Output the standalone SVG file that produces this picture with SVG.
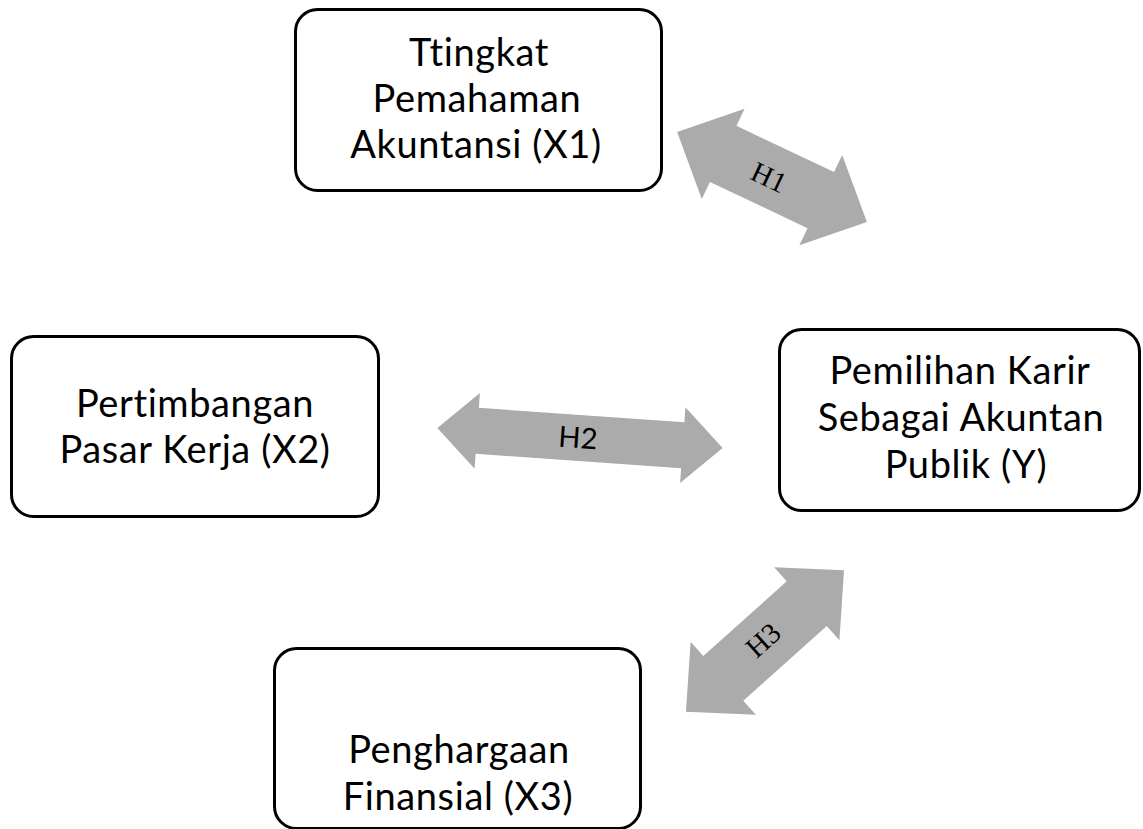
<svg xmlns="http://www.w3.org/2000/svg" width="1143" height="829" viewBox="0 0 1143 829">
  <style>
    .box { fill: #ffffff; stroke: #000000; stroke-width: 3; }
    .lbl { font-family: Lato, "Open Sans", "Liberation Sans", sans-serif; font-size: 38px; letter-spacing: 0.6px; font-variant-ligatures: none; fill: #000000; text-anchor: middle; }
    .arrow { fill: #ababab; stroke: none; }
    .hs { font-family: "Liberation Serif", serif; font-size: 29px; fill: #000000; text-anchor: middle; }
    .hn { font-family: Lato, "Open Sans", "Liberation Sans", sans-serif; font-size: 29px; fill: #000000; text-anchor: middle; }
  </style>
  <rect width="1143" height="829" fill="#ffffff"/>

  <g id="connectors">
    <g id="h1">
      <path class="arrow" transform="translate(772 177) rotate(25.35)" d="M -105 0 L -54 -50 L -54 -31 L 54 -31 L 54 -50 L 105 0 L 54 50 L 54 31 L -54 31 L -54 50 Z"/>
      <text class="hs" transform="translate(769 177) rotate(25.35)" x="0" y="10">H1</text>
    </g>
    <g id="h2">
      <path class="arrow" transform="translate(580 438) rotate(4)" d="M -143 0 L -103 -38 L -103 -23 L 103 -23 L 103 -38 L 143 0 L 103 38 L 103 23 L -103 23 L -103 38 Z"/>
      <text class="hn" transform="translate(578 438) rotate(4)" x="0" y="10">H2</text>
    </g>
    <g id="h3">
      <path class="arrow" transform="translate(765 641) rotate(-41.8)" d="M -106 0 L -56 -49 L -56 -30 L 56 -30 L 56 -49 L 106 0 L 56 49 L 56 30 L -56 30 L -56 49 Z"/>
      <text class="hs" transform="translate(763 640) rotate(-41.8)" x="0" y="10">H3</text>
    </g>
  </g>

  <g id="x1">
    <rect class="box" x="295.5" y="9.5" width="366" height="181" rx="22"/>
    <text class="lbl" x="479" y="66">Ttingkat</text>
    <text class="lbl" x="477" y="112">Pemahaman</text>
    <text class="lbl" x="476" y="158">Akuntansi (X1)</text>
  </g>

  <g id="x2">
    <rect class="box" x="11.5" y="336.5" width="367" height="180" rx="22"/>
    <text class="lbl" x="195" y="417">Pertimbangan</text>
    <text class="lbl" x="195" y="463">Pasar Kerja (X2)</text>
  </g>

  <g id="y">
    <rect class="box" x="779.5" y="329.5" width="360" height="181" rx="22"/>
    <text class="lbl" x="960" y="384">Pemilihan Karir</text>
    <text class="lbl" x="961" y="431">Sebagai Akuntan</text>
    <text class="lbl" x="966" y="478">Publik (Y)</text>
  </g>

  <g id="x3">
    <rect class="box" x="274.5" y="648.5" width="366" height="180" rx="22"/>
    <text class="lbl" x="459" y="763">Penghargaan</text>
    <text class="lbl" x="458" y="810">Finansial (X3)</text>
  </g>
</svg>
